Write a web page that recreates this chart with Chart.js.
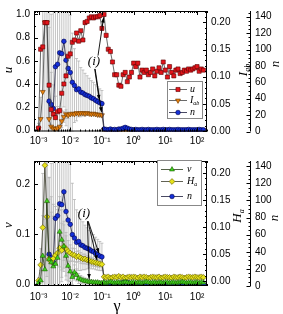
<!DOCTYPE html>
<html>
<head>
<meta charset="utf-8">
<script src="https://cdn.jsdelivr.net/npm/chart.js@4.4.0/dist/chart.umd.min.js"></script>
<style>
  html, body { margin: 0; padding: 0; background: #fff; }
  #wrap { position: relative; width: 283px; height: 314px; }
  canvas { position: absolute; left: 0; }
  #top { top: 0; }
  #bot { top: 150px; }
</style>
</head>
<body>
<div id="wrap">
  <canvas id="top" width="283" height="150"></canvas>
  <canvas id="bot" width="283" height="164"></canvas>
</div>
<script>
// shear rate samples (one row per decade)
const gamma = [
  0.001, 0.001166, 0.001359, 0.001585, 0.001848, 0.002154, 0.002512, 0.002929, 0.003415, 0.003981, 0.004642, 0.005412, 0.00631, 0.007356, 0.008577,
  0.01, 0.01166, 0.01359, 0.01585, 0.01848, 0.02154, 0.02512, 0.02929, 0.03415, 0.03981, 0.04642, 0.05412, 0.0631, 0.07356, 0.08577,
  0.1, 0.1166, 0.1359, 0.1585, 0.1848, 0.2154, 0.2512, 0.2929, 0.3415, 0.3981, 0.4642, 0.5412, 0.631, 0.7356, 0.8577,
  1, 1.166, 1.359, 1.585, 1.848, 2.154, 2.512, 2.929, 3.415, 3.981, 4.642, 5.412, 6.31, 7.356, 8.577,
  10, 11.66, 13.59, 15.85, 18.48, 21.54, 25.12, 29.29, 34.15, 39.81, 46.42, 54.12, 63.1, 73.56, 85.77,
  100, 116.6, 135.9, 158.5
];

const gammaTicks = [1e-3, 1e-2, 1e-1, 1, 10, 100];
const gammaLabels = ['10⁻³', '10⁻²', '10⁻¹', '10⁰', '10¹', '10²'];
const uTicks = [0, 0.2, 0.4, 0.6, 0.8, 1.0];
const abTicks = [0, 0.05, 0.10, 0.15, 0.20];
const nTicks = [0, 20, 40, 60, 80, 100, 120, 140];
const vTicks = [0, 0.1, 0.2];

// top panel
const uVals = [
  0.02, 0.70, 0.72, 0.93, 0.93, 0.39, 0.18, 0.14, 0.11, 0.16, 0.17, 0.32, 0.40, 0.47, 0.64,
  0.66, 0.76, 0.78, 0.84, 0.77, 0.86, 0.78, 0.93, 0.94, 0.97, 0.98, 0.97, 0.98, 0.98, 0.99,
  0.88, 1.00, 0.82, 0.70, 0.68, 0.59, 0.48, 0.48, 0.39, 0.38, 0.48, 0.50, 0.42, 0.46, 0.50,
  0.58, 0.55, 0.58, 0.46, 0.52, 0.50, 0.52, 0.48, 0.50, 0.53, 0.47, 0.51, 0.54, 0.50, 0.59,
  0.52, 0.46, 0.55, 0.50, 0.47, 0.52, 0.53, 0.49, 0.50, 0.52, 0.51, 0.53, 0.52, 0.53, 0.54,
  0.55, 0.51, 0.53, 0.52
];
const iabVals = [
  0.004, 0.022, 0.072, 0.20, 0.20, 0.022, 0.008, 0.005, 0.004, 0.005, 0.008, 0.018, 0.026, 0.031, 0.029,
  0.031, 0.032, 0.031, 0.033, 0.032, 0.033, 0.033, 0.032, 0.033, 0.032, 0.031, 0.032, 0.031, 0.030, 0.030,
  0.029, 0.002, 0.001, 0.002, 0.001, 0.002, 0.001, 0.002, 0.002, 0.001, 0.002, 0.001, 0.002, 0.001, 0.002,
  0.001, 0.002, 0.001, 0.002, 0.001, 0.002, 0.001, 0.001, 0.002, 0.001, 0.002, 0.001, 0.002, 0.001, 0.001,
  0.002, 0.001, 0.002, 0.001, 0.002, 0.001, 0.001, 0.002, 0.001, 0.002, 0.001, 0.002, 0.001, 0.001, 0.002,
  0.001, 0.002, 0.001, 0.002
];
const iabErr = [0.01, 0.04, 0.15, 0.3, 0.3, 0.2, 0.1, 0.08, 0.06, 0.04, 0.03, 0.02, 0.01, 0.008, 0.006];
const nVals = [
  null, null, null, null, null, 37, 33, 28, 79, 82, 96, 95, 110, 87, 77,
  72, 60, 56, 51, 52, 48, 47, 45, 44, 43, 41, 40, 38, 36.5, 35,
  34, 3, 2.5, 2, 3, 2, 2.5, 2, 3, 3, 4, 5, 4, 3, 2.5,
  2, 2.5, 2, 2, 2.5, 2, 2, 2.5, 2, 2, 2, 2.5, 2, 2, 2.5,
  2, 2, 2.5, 2, 2, 2, 2.5, 2, 2, 2, 2, 2.5, 2, 2, 2,
  2, 2.5, 2, 2
];
const nErr = [
  null, null, null, null, null, 90, 110, 120, 110, 120, 100, 90, 80, 80, 75,
  70, 60, 45, 38, 34, 30, 28, 26, 24, 22, 21, 20, 19, 18, 17,
  16
];

// bottom panel
const vVals = [
  0.004, 0.008, 0.057, 0.030, 0.166, 0.050, 0.044, 0.036, 0.041, 0.053, 0.105, 0.089, 0.076, 0.057, 0.037,
  0.026, 0.015, 0.024, 0.019, 0.012, 0.010, 0.008, 0.007, 0.006, 0.005, 0.005, 0.004, 0.004, 0.004, 0.003,
  0.003, 0.004, 0.003, 0.004, 0.005, 0.004, 0.003, 0.004, 0.004, 0.003, 0.004, 0.005, 0.004, 0.003, 0.004,
  0.004, 0.003, 0.004, 0.004, 0.003, 0.004, 0.005, 0.004, 0.003, 0.004, 0.004, 0.003, 0.004, 0.004, 0.003,
  0.004, 0.004, 0.003, 0.004, 0.004, 0.003, 0.004, 0.004, 0.005, 0.004, 0.003, 0.004, 0.004, 0.003, 0.004,
  0.004, 0.003, 0.004, 0.004
];
const vErr = [
  0.005, 0.02, 0.08, 0.1, 0.15, 0.12, 0.1, 0.1, 0.09, 0.08, 0.07, 0.06, 0.05, 0.04, 0.03,
  0.02, 0.015, 0.015, 0.012, 0.01, 0.008, 0.007, 0.006, 0.005, 0.005, 0.004, 0.004, 0.004, 0.003, 0.003
];
const haVals = [
  0.001, 0.030, 0.099, 0.214, 0.119, 0.041, 0.036, 0.042, 0.048, 0.052, 0.061, 0.057, 0.064, 0.060, 0.055,
  0.052, 0.049, 0.048, 0.045, 0.046, 0.043, 0.041, 0.041, 0.039, 0.038, 0.036, 0.035, 0.034, 0.033, 0.032,
  0.031, 0.008, 0.007, 0.008, 0.006, 0.007, 0.008, 0.007, 0.009, 0.007, 0.008, 0.006, 0.007, 0.008, 0.007,
  0.008, 0.007, 0.006, 0.008, 0.007, 0.008, 0.007, 0.006, 0.007, 0.008, 0.007, 0.007, 0.008, 0.006, 0.007,
  0.008, 0.007, 0.007, 0.006, 0.008, 0.007, 0.007, 0.008, 0.007, 0.006, 0.007, 0.008, 0.007, 0.007, 0.008,
  0.007, 0.007, 0.008, 0.007
];
const haErr = [
  0.005, 0.03, 0.1, 0.25, 0.2, 0.15, 0.12, 0.1, 0.09, 0.08, 0.07, 0.05, 0.04, 0.03, 0.02,
  0.015, 0.012, 0.012, 0.01, 0.01, 0.01, 0.009, 0.009, 0.008, 0.008, 0.008, 0.007, 0.007, 0.007, 0.006
];

const tickFont = {family: '"Liberation Sans", Arial, sans-serif', size: 10};
const serif = '"Liberation Serif", "Times New Roman", serif';

function pts(vals) {
  return gamma.map((g, i) => ({x: g, y: vals[i] == null ? null : vals[i]}));
}

function series(label, vals, axis, st, err) {
  return {
    label: label, data: pts(vals), yAxisID: axis, errors: err || [],
    showLine: true, borderColor: st.line, borderWidth: 0.8, tension: 0,
    pointStyle: st.shape, pointRotation: st.rot || 0, pointRadius: st.r,
    pointBackgroundColor: st.fill, pointBorderColor: st.edge, pointBorderWidth: 0.6
  };
}

const red = {shape: 'rect', r: 2.9, fill: '#e3151b', edge: '#5a0000', line: '#444'};
const orange = {shape: 'triangle', rot: 180, r: 2.9, fill: '#e8820e', edge: '#6a3500', line: '#444'};
const blue = {shape: 'circle', r: 2.3, fill: '#1530d8', edge: '#00004a', line: '#1a1a3a'};
const green = {shape: 'triangle', r: 2.9, fill: '#3ed21e', edge: '#1c5a00', line: '#2a3a1a'};
const yellow = {shape: 'rectRot', r: 2.9, fill: '#e6e21a', edge: '#5e5600', line: '#3a3a2a'};

function xAxis(h, pad) {
  return {
    type: 'logarithmic', min: 7.2e-4, max: 206,
    afterBuildTicks: s => { s.ticks = gammaTicks.map(v => ({value: v})); },
    afterFit: s => { s.height = h; },
    grid: {display: false, drawTicks: false}, border: {display: false},
    ticks: {autoSkip: false, maxRotation: 0, padding: pad, color: '#000', font: tickFont,
      callback: v => gammaLabels[Math.round(Math.log10(v)) + 3]}
  };
}

function yAxis(pos, min, max, ticks, digits, width, pad, weight) {
  return {
    type: 'linear', position: pos, min: min, max: max, weight: weight,
    afterBuildTicks: s => { s.ticks = ticks.map(v => ({value: v})); },
    afterFit: s => { s.width = width; },
    grid: {display: false, drawTicks: false}, border: {display: false},
    ticks: {padding: pad, color: '#000', font: tickFont, callback: v => v.toFixed(digits)}
  };
}

// per-panel decorations (legend box, titles, arrows, tick steps)
const deco = {
  top: {
    steps: {y: [0.2, 0.1], yR: [0.05, 0.01], yN: [20, 5]},
    key: {x: 167, y: 81, w: 35, h: 37, l0: 2, l1: 20, m: 11, t: 23,
      rows: [{ds: 0, text: 'u', dy: 8}, {ds: 2, text: 'I', sub: 'ab', dy: 19}, {ds: 1, text: 'n', dy: 31}]},
    titles: [
      {text: 'u', x: 9, y: 70, rot: -Math.PI / 2},
      {text: 'I', sub: 'ab', x: 244, y: 70, rot: -Math.PI / 2},
      {text: 'n', x: 276, y: 64, rot: -Math.PI / 2}
    ],
    label: [0.056, 0.59, 'y'],
    arrows: [
      {from: [0.0753, 0.645, 'y'], to: [gamma[31], uVals[31], 'y']},
      {from: [0.059, 0.53, 'y'], to: [gamma[29], nVals[29], 'yN']},
      {from: [0.061, 0.53, 'y'], to: [gamma[30], iabVals[30], 'yR']}
    ]
  },
  bot: {
    steps: {y: [0.1, 0.05], yR: [0.05, 0.01], yN: [20, 5]},
    key: {x: 157, y: 10, w: 44, h: 45, l0: 4, l1: 26, m: 15, t: 30,
      rows: [{ds: 0, text: 'v', dy: 9}, {ds: 1, text: 'H', sub: 'a', dy: 21}, {ds: 2, text: 'n', dy: 36}]},
    titles: [
      {text: 'v', x: 9, y: 75, rot: -Math.PI / 2},
      {text: 'H', sub: 'a', x: 238, y: 66, rot: -Math.PI / 2},
      {text: 'n', x: 275, y: 68, rot: -Math.PI / 2},
      {text: 'γ', x: 117, y: 157, rot: 0, size: 16, upright: true}
    ],
    label: [0.0272, 0.1415, 'y'],
    arrows: [
      {from: [0.037, 0.126, 'y'], to: [gamma[29], nVals[29], 'yN']},
      {from: [0.036, 0.126, 'y'], to: [gamma[28], haVals[28], 'yR']},
      {from: [0.035, 0.126, 'y'], to: [gamma[24], vVals[24], 'y']}
    ]
  }
};

function italicLabel(ctx, main, sub, x, y, size, rot, align, upright) {
  ctx.save();
  ctx.translate(x, y);
  ctx.rotate(rot || 0);
  const f1 = (upright ? '' : 'italic ') + size + 'px ' + serif;
  const f2 = 'italic ' + Math.round(size * 0.62) + 'px ' + serif;
  ctx.font = f1;
  const w1 = ctx.measureText(main).width;
  ctx.font = f2;
  const w2 = sub ? ctx.measureText(sub).width : 0;
  const x0 = align === 'left' ? 0 : -(w1 + w2) / 2;
  ctx.fillStyle = '#000';
  ctx.textAlign = 'left';
  ctx.textBaseline = 'middle';
  ctx.font = f1;
  ctx.fillText(main, x0, 0);
  if (sub) {
    ctx.font = f2;
    ctx.fillText(sub, x0 + w1, size * 0.32);
  }
  ctx.restore();
}

const errorBars = {
  id: 'errorBars',
  beforeDatasetsDraw(chart) {
    const {ctx, chartArea: a} = chart;
    ctx.save();
    ctx.beginPath();
    ctx.rect(a.left, a.top, a.right - a.left, a.bottom - a.top);
    ctx.clip();
    ctx.strokeStyle = '#b4b4b4';
    ctx.lineWidth = 0.8;
    chart.data.datasets.forEach(ds => {
      const ys = chart.scales[ds.yAxisID];
      ds.errors.forEach((e, i) => {
        const v = ds.data[i].y;
        if (e == null || v == null) return;
        const x = chart.scales.x.getPixelForValue(ds.data[i].x);
        const y1 = ys.getPixelForValue(v - e), y2 = ys.getPixelForValue(v + e);
        ctx.beginPath();
        ctx.moveTo(x, y1); ctx.lineTo(x, y2);
        ctx.moveTo(x - 1.5, y1); ctx.lineTo(x + 1.5, y1);
        ctx.moveTo(x - 1.5, y2); ctx.lineTo(x + 1.5, y2);
        ctx.stroke();
      });
    });
    ctx.restore();
  }
};

function linTicks(ctx, scale, step, x, dir) {
  const [major, minor] = step;
  for (let v = Math.ceil(scale.min / minor - 1e-6) * minor; v <= scale.max + 1e-9; v += minor) {
    const isMajor = Math.abs(v / major - Math.round(v / major)) < 1e-6;
    const y = Math.round(scale.getPixelForValue(v)) + 0.5;
    ctx.moveTo(x, y);
    ctx.lineTo(x + dir * (isMajor ? 4 : 2), y);
  }
}

const frame = {
  id: 'frame',
  afterDatasetsDraw(chart) {
    const {ctx, chartArea: a, scales} = chart;
    const d = deco[chart.canvas.id];
    ctx.save();
    ctx.strokeStyle = '#000';
    ctx.lineWidth = 1;
    ctx.strokeRect(a.left + 0.5, a.top + 0.5, a.right - a.left - 1, a.bottom - a.top - 1);
    ctx.beginPath();
    for (let e = -4; e <= 3; e++) {
      for (let m = 1; m <= 9; m++) {
        const g = m * Math.pow(10, e);
        if (g < scales.x.min || g > scales.x.max) continue;
        const x = Math.round(scales.x.getPixelForValue(g)) + 0.5;
        const len = m === 1 ? 4 : 2;
        ctx.moveTo(x, a.bottom); ctx.lineTo(x, a.bottom - len);
        ctx.moveTo(x, a.top); ctx.lineTo(x, a.top + len);
      }
    }
    linTicks(ctx, scales.y, d.steps.y, a.left, 1);
    linTicks(ctx, scales.yR, d.steps.yR, a.right, -1);
    const nx = Math.round(scales.yN.left) + 0.5;
    ctx.moveTo(nx, a.top); ctx.lineTo(nx, a.bottom);
    linTicks(ctx, scales.yN, d.steps.yN, nx, -1);
    ctx.stroke();
    ctx.restore();
  }
};

function toPx(chart, p) {
  return [chart.scales.x.getPixelForValue(p[0]), chart.scales[p[2]].getPixelForValue(p[1])];
}

const notes = {
  id: 'notes',
  afterDatasetsDraw(chart) {
    const {ctx} = chart;
    const d = deco[chart.canvas.id];
    ctx.save();
    ctx.strokeStyle = '#000';
    ctx.fillStyle = '#000';
    ctx.lineWidth = 0.9;
    d.arrows.forEach(ar => {
      const [x1, y1] = toPx(chart, ar.from), [x2, y2] = toPx(chart, ar.to);
      const ang = Math.atan2(y2 - y1, x2 - x1);
      const len = Math.hypot(x2 - x1, y2 - y1) - 3;
      const tx = x1 + Math.cos(ang) * len, ty = y1 + Math.sin(ang) * len;
      ctx.beginPath();
      ctx.moveTo(x1, y1); ctx.lineTo(tx, ty);
      ctx.stroke();
      const c = Math.cos(ang), s = Math.sin(ang);
      ctx.beginPath();
      ctx.moveTo(tx, ty);
      ctx.lineTo(tx - 5 * c + 1.8 * s, ty - 5 * s - 1.8 * c);
      ctx.lineTo(tx - 5 * c - 1.8 * s, ty - 5 * s + 1.8 * c);
      ctx.closePath();
      ctx.fill();
    });
    const [lx, ly] = toPx(chart, d.label);
    ctx.font = 'italic 13px ' + serif;
    ctx.textAlign = 'center';
    ctx.textBaseline = 'middle';
    ctx.fillText('(i)', lx, ly);
    ctx.restore();
  }
};

const keyBox = {
  id: 'keyBox',
  afterDraw(chart) {
    const {ctx} = chart;
    const k = deco[chart.canvas.id].key;
    ctx.save();
    ctx.fillStyle = '#fff';
    ctx.fillRect(k.x, k.y, k.w, k.h);
    ctx.strokeStyle = '#888';
    ctx.lineWidth = 1;
    ctx.strokeRect(k.x + 0.5, k.y + 0.5, k.w, k.h);
    k.rows.forEach(r => {
      const ds = chart.data.datasets[r.ds];
      const y = k.y + r.dy + 0.5;
      ctx.strokeStyle = ds.borderColor;
      ctx.lineWidth = 0.8;
      ctx.beginPath();
      ctx.moveTo(k.x + k.l0, y); ctx.lineTo(k.x + k.l1, y);
      ctx.stroke();
      ctx.fillStyle = ds.pointBackgroundColor;
      ctx.strokeStyle = ds.pointBorderColor;
      ctx.lineWidth = ds.pointBorderWidth;
      Chart.helpers.drawPoint(ctx, {pointStyle: ds.pointStyle, radius: ds.pointRadius,
        rotation: ds.pointRotation, borderWidth: ds.pointBorderWidth}, k.x + k.m, y);
      italicLabel(ctx, r.text, r.sub, k.x + k.t, y, 10, 0, 'left');
    });
    ctx.restore();
  }
};

const titles = {
  id: 'titles',
  afterDraw(chart) {
    deco[chart.canvas.id].titles.forEach(t => {
      italicLabel(chart.ctx, t.text, t.sub, t.x, t.y, t.size || 13, t.rot, 'center', t.upright);
    });
  }
};

function makeChart(id, datasets, xh, xpad, padTop, yMin, yMax, yTicks, yDigits, rMin, rMax, nMax) {
  return new Chart(document.getElementById(id), {
    type: 'line',
    data: {datasets: datasets},
    options: {
      responsive: false, animation: false, devicePixelRatio: 1,
      layout: {padding: {top: padTop, left: 0, right: 0, bottom: 0}},
      scales: {
        x: xAxis(xh, xpad),
        y: yAxis('left', yMin, yMax, yTicks, yDigits, 34, 4, 0),
        yR: yAxis('right', rMin, rMax, abTicks, 2, 43, 4, 0),
        yN: yAxis('right', 0, nMax, nTicks, 0, 33, 5, 1)
      },
      plugins: {legend: {display: false}, tooltip: {enabled: false}}
    },
    plugins: [errorBars, frame, notes, keyBox, titles]
  });
}

makeChart('top', [
  series('u', uVals, 'y', red),
  series('n', nVals, 'yN', blue, nErr),
  series('I_ab', iabVals, 'yR', orange, iabErr)
], 18.5, 4, 1.5, -0.01, 1.03, uTicks, 1, -0.001, 0.221, 147);

makeChart('bot', [
  series('v', vVals, 'y', green, vErr),
  series('H_a', haVals, 'yR', yellow, haErr),
  series('n', nVals, 'yN', blue, nErr)
], 28, 5, 6.7, -0.003, 0.246, vTicks, 1, -0.009, 0.222, 146);
</script>
</body>
</html>
